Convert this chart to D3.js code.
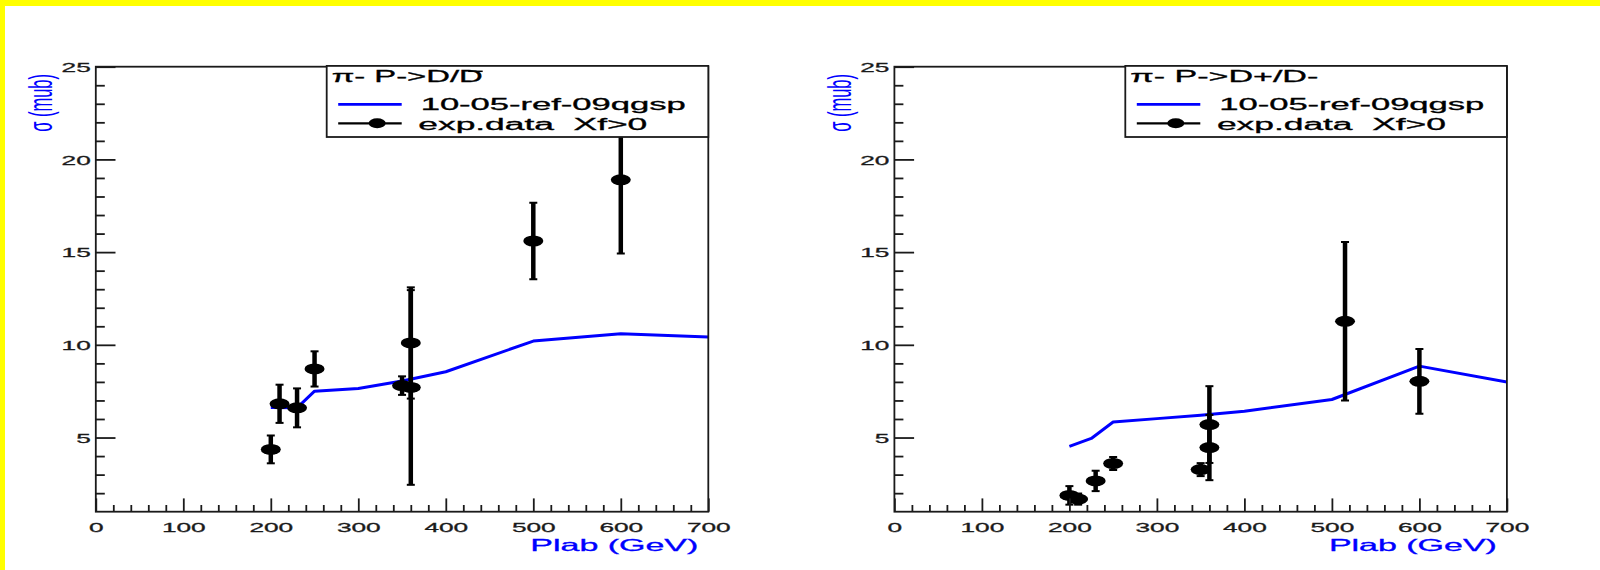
<!DOCTYPE html>
<html>
<head>
<meta charset="utf-8">
<script src="https://cdn.jsdelivr.net/npm/d3@7"></script>
<style>
  body { margin: 0; background: #fff; }
  svg text { font-family: "Liberation Sans", Arial, sans-serif; stroke-width: 0.3px; }
</style>
</head>
<body>
<div id="chart"></div>
<script>
// axis ticks
var xTicks = [0, 100, 200, 300, 400, 500, 600, 700];
var yTicks = [5, 10, 15, 20, 25];

// left pad : pi- P -> D/Dbar
var leftModelX = [200, 230, 250, 300, 350, 400, 500, 600, 700];
var leftModelY = [6.62, 6.6, 7.5, 7.65, 8.05, 8.55, 10.2, 10.6, 10.42];
var leftDataX = [200, 210, 230, 250, 350, 360, 360, 500, 600];
var leftDataY = [4.36, 6.82, 6.6, 8.7, 7.8, 10.1, 7.7, 15.6, 18.9];
var leftDataErr = [0.75, 1.03, 1.05, 0.95, 0.5, 3.0, 5.25, 2.06, 3.97];

// right pad : pi- P -> D+/D-
var rightModelX = [200, 225, 250, 300, 350, 400, 500, 600, 700];
var rightModelY = [4.52, 4.95, 5.84, 6.02, 6.2, 6.42, 7.05, 8.85, 8.0];
var rightDataX = [200, 210, 230, 250, 350, 360, 360, 515, 600];
var rightDataY = [1.88, 1.68, 2.66, 3.6, 3.27, 5.7, 4.46, 11.27, 8.03];
var rightDataErr = [0.5, 0.3, 0.55, 0.35, 0.35, 2.07, 1.76, 4.27, 1.75];

var panels = [
  {dx: 0, title: "π- P->D/D", overline: true, titleLen: 151,
   mx: leftModelX, my: leftModelY, px: leftDataX, py: leftDataY, pe: leftDataErr},
  {dx: 798.6, title: "π- P->D+/D-", overline: false, titleLen: 188,
   mx: rightModelX, my: rightModelY, px: rightDataX, py: rightDataY, pe: rightDataErr}
];

var W = 1600, H = 570;
var frame = {left: 95.8, right: 708.3, top: 66.7, bottom: 511.7};
var ink = "#1a1a1a";

var svg = d3.select("#chart").append("svg")
  .attr("width", W)
  .attr("height", H);

// canvas: yellow border, white inside
svg.append("rect").attr("width", W).attr("height", H).attr("fill", "#ffff00");
svg.append("rect").attr("x", 5).attr("y", 6).attr("width", W - 5).attr("height", H - 6).attr("fill", "#fff");

var x = d3.scaleLinear().domain([0, 700]).range([frame.left, frame.right]);
var y = d3.scaleLinear().domain([1, 25]).range([frame.bottom, frame.top]);

var digitW = 14.6;

panels.forEach(function (p, i) {
  var g = svg.append("g").attr("transform", "translate(" + p.dx + ",0)");

  g.append("clipPath").attr("id", "clip" + i)
    .append("rect")
    .attr("x", frame.left).attr("y", frame.top)
    .attr("width", frame.right - frame.left)
    .attr("height", frame.bottom - frame.top);

  var plot = g.append("g").attr("clip-path", "url(#clip" + i + ")");

  // model curve
  var model = p.mx.map(function (d, k) { return [d, p.my[k]]; });
  plot.append("path")
    .datum(model)
    .attr("fill", "none")
    .attr("stroke", "#0000ff")
    .attr("stroke-width", 3)
    .attr("stroke-linejoin", "round")
    .attr("d", d3.line().x(function (d) { return x(d[0]); }).y(function (d) { return y(d[1]); }));

  // data with error bars
  var pts = p.px.map(function (d, k) { return {x: d, y: p.py[k], e: p.pe[k]}; });
  var pg = plot.selectAll(".pt").data(pts).enter().append("g").attr("class", "pt");
  pg.append("line")
    .attr("x1", function (d) { return x(d.x); })
    .attr("x2", function (d) { return x(d.x); })
    .attr("y1", function (d) { return y(d.y - d.e); })
    .attr("y2", function (d) { return y(d.y + d.e); })
    .attr("stroke", "#000").attr("stroke-width", 4.5);
  [-1, 1].forEach(function (s) {
    pg.append("line")
      .attr("x1", function (d) { return x(d.x) - 4; })
      .attr("x2", function (d) { return x(d.x) + 4; })
      .attr("y1", function (d) { return y(d.y + s * d.e); })
      .attr("y2", function (d) { return y(d.y + s * d.e); })
      .attr("stroke", "#000").attr("stroke-width", 2);
  });
  pg.append("ellipse")
    .attr("cx", function (d) { return x(d.x); })
    .attr("cy", function (d) { return y(d.y); })
    .attr("rx", 10).attr("ry", 5.5)
    .attr("fill", "#000");

  // frame
  g.append("rect")
    .attr("x", frame.left).attr("y", frame.top)
    .attr("width", frame.right - frame.left)
    .attr("height", frame.bottom - frame.top)
    .attr("fill", "none").attr("stroke", ink).attr("stroke-width", 1.8);

  // x axis
  var xMinor = d3.range(20, 700, 20).filter(function (v) { return v % 100 !== 0; });
  g.append("g")
    .attr("transform", "translate(0," + frame.bottom + ")")
    .call(d3.axisBottom(x).tickValues(xMinor).tickSize(-6.7).tickFormat(""))
    .call(function (a) { a.select(".domain").remove(); a.selectAll("line").attr("stroke", ink).attr("stroke-width", 1.8); });
  var xa = g.append("g")
    .attr("transform", "translate(0," + frame.bottom + ")")
    .call(d3.axisBottom(x).tickValues(xTicks).tickSize(-13.3).tickPadding(20).tickFormat(d3.format("d")));
  xa.select(".domain").remove();
  xa.selectAll("line").attr("stroke", ink).attr("stroke-width", 1.8);
  xa.selectAll("text")
    .attr("y", 20).attr("dy", 0)
    .attr("fill", ink).attr("stroke", ink)
    .style("font-size", "13.5px")
    .attr("textLength", function (d) { return String(d).length * digitW; })
    .attr("lengthAdjust", "spacingAndGlyphs");

  // y axis
  var yMinor = d3.range(2, 25, 1).filter(function (v) { return v % 5 !== 0; });
  g.append("g")
    .attr("transform", "translate(" + frame.left + ",0)")
    .call(d3.axisLeft(y).tickValues(yMinor).tickSize(-9).tickFormat(""))
    .call(function (a) { a.select(".domain").remove(); a.selectAll("line").attr("stroke", ink).attr("stroke-width", 1.8); });
  var ya = g.append("g")
    .attr("transform", "translate(" + frame.left + ",0)")
    .call(d3.axisLeft(y).tickValues(yTicks).tickSize(-19.7).tickPadding(5).tickFormat(d3.format("d")));
  ya.select(".domain").remove();
  ya.selectAll("line").attr("stroke", ink).attr("stroke-width", 1.8);
  ya.selectAll("text")
    .attr("dy", "0.35em")
    .attr("fill", ink).attr("stroke", ink)
    .style("font-size", "13.5px")
    .attr("textLength", function (d) { return String(d).length * digitW; })
    .attr("lengthAdjust", "spacingAndGlyphs");

  // axis titles
  g.append("text")
    .attr("x", frame.right - 10).attr("y", 550.5)
    .attr("text-anchor", "end")
    .attr("fill", "#0000ff").attr("stroke", "#0000ff")
    .style("font-size", "16.5px")
    .attr("textLength", 168).attr("lengthAdjust", "spacingAndGlyphs")
    .text("Plab (GeV)");
  g.append("text")
    .attr("transform", "translate(52,74) scale(2.05,1) rotate(-90)")
    .attr("text-anchor", "end")
    .attr("fill", "#0000ff")
    .style("font-size", "16.5px")
    .text("σ (mub)");

  // legend
  var lg = g.append("g");
  var lx = frame.right - 381.6;
  lg.append("rect")
    .attr("x", lx).attr("y", frame.top - 0.8)
    .attr("width", frame.right - lx).attr("height", 137 - frame.top + 0.8)
    .attr("fill", "#fff").attr("stroke", ink).attr("stroke-width", 1.8);
  lg.append("text")
    .attr("x", lx + 5).attr("y", 82.3)
    .attr("fill", "#000").attr("stroke", "#000")
    .style("font-size", "16px")
    .attr("textLength", p.titleLen).attr("lengthAdjust", "spacingAndGlyphs")
    .text(p.title);
  if (p.overline) {
    var tEnd = lx + 5 + p.titleLen;
    lg.append("line")
      .attr("x1", tEnd - 14.5).attr("x2", tEnd)
      .attr("y1", 71.3).attr("y2", 71.3)
      .attr("stroke", "#000").attr("stroke-width", 1.5);
  }
  lg.append("line")
    .attr("x1", lx + 11.5).attr("x2", lx + 75)
    .attr("y1", 104.3).attr("y2", 104.3)
    .attr("stroke", "#0000ff").attr("stroke-width", 2.8);
  lg.append("text")
    .attr("x", lx + 94).attr("y", 110.3)
    .attr("fill", "#000").attr("stroke", "#000")
    .style("font-size", "16px")
    .attr("textLength", 265).attr("lengthAdjust", "spacingAndGlyphs")
    .text("10-05-ref-09qgsp");
  lg.append("line")
    .attr("x1", lx + 11.5).attr("x2", lx + 75)
    .attr("y1", 123.3).attr("y2", 123.3)
    .attr("stroke", "#000").attr("stroke-width", 2.2);
  lg.append("ellipse")
    .attr("cx", lx + 50.5).attr("cy", 123.3)
    .attr("rx", 8.5).attr("ry", 5)
    .attr("fill", "#000");
  lg.append("text")
    .attr("x", lx + 91.6).attr("y", 130.3)
    .attr("fill", "#000").attr("stroke", "#000")
    .style("font-size", "16px")
    .attr("xml:space", "preserve")
    .attr("textLength", 229).attr("lengthAdjust", "spacingAndGlyphs")
    .text("exp.data  Xf>0");
});
</script>
</body>
</html>
